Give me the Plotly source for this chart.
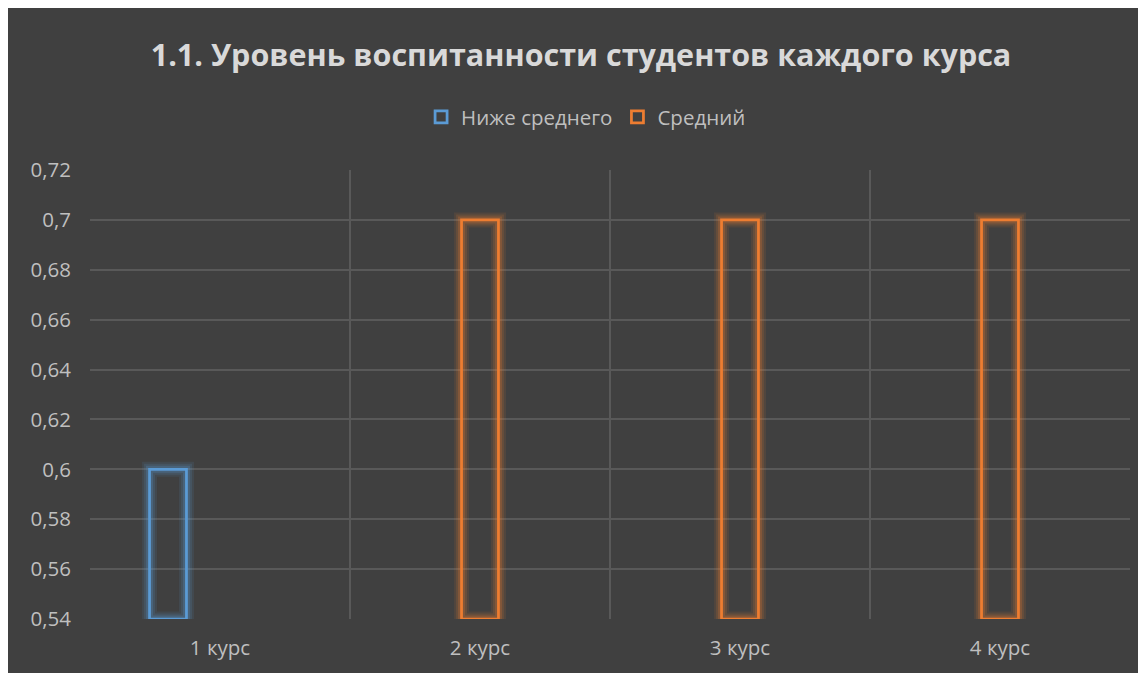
import plotly.graph_objects as go

categories = ["1 курс", "2 курс", "3 курс", "4 курс"]
below_avg = [0.6, None, None, None]
average = [None, 0.7, 0.7, 0.7]
y_tick_vals = [0.54, 0.56, 0.58, 0.6, 0.62, 0.64, 0.66, 0.68, 0.7, 0.72]
y_tick_text = ["0,54", "0,56", "0,58", "0,6", "0,62", "0,64", "0,66", "0,68", "0,7", "0,72"]
title_text = "1.1. Уровень воспитанности студентов каждого курса"

Y_MIN, Y_MAX = 0.54, 0.72
BLUE = "#5B9BD5"
ORANGE = "#ED7D31"
BG = "#404040"
GRID = "#595959"
FONT = "Open Sans"

W = 1146
H = 673
ML, MR, MT, MB = 82, 24, 162, 62

def rel(vals):
    return [None if v is None else v - Y_MIN for v in vals]

fig = go.Figure()

series = [
    ("Ниже среднего", below_avg, BLUE, (91, 155, 213), -0.271),
    ("Средний", average, ORANGE, (237, 125, 49), -0.071),
]
bw = 0.142
for name, vals, col, rgb, off in series:
    for gw, ga in [(15, 0.10), (11, 0.14), (7, 0.22)]:
        fig.add_trace(go.Bar(
            x=categories, y=rel(vals), base=Y_MIN, width=bw, offset=off,
            marker=dict(color="rgba(0,0,0,0)",
                        line=dict(color="rgba(%d,%d,%d,%.2f)" % (rgb + (ga,)), width=gw)),
            showlegend=False, hoverinfo="skip",
        ))
    fig.add_trace(go.Bar(
        x=categories, y=rel(vals), base=Y_MIN, width=bw, offset=off,
        name=name,
        customdata=vals,
        hovertemplate="%{x}: %{customdata}<extra>" + name + "</extra>",
        marker=dict(color="rgba(0,0,0,0)", line=dict(color=col, width=2.75)),
    ))

fig.update_layout(
    width=W, height=H,
    margin=dict(l=ML, r=MR, t=MT, b=MB),
    paper_bgcolor=BG, plot_bgcolor=BG,
    barmode="overlay",
    font=dict(family=FONT, color="#bfbfbf", size=20),
    title=dict(text="<b>" + title_text + "</b>", x=0.5, xanchor="center",
               y=1 - 47 / H, yanchor="middle",
               font=dict(family=FONT, size=30.5, color="#d9d9d9")),
    legend=dict(orientation="h", x=0.477, xanchor="center", y=1 + (MT - 109) / (H - MT - MB),
                yanchor="middle", font=dict(size=20.5, color="#bfbfbf"),
                bgcolor="rgba(0,0,0,0)", itemwidth=30, traceorder="normal"),
    xaxis=dict(type="category", tickson="boundaries", showgrid=True, gridcolor=GRID,
               gridwidth=1.5, ticks="", showline=False, zeroline=False,
               ticklabelstandoff=14, tickfont=dict(size=20.5, color="#bfbfbf")),
    yaxis=dict(range=[Y_MIN, Y_MAX], tickvals=y_tick_vals, ticktext=y_tick_text,
               showgrid=True, gridcolor=GRID, gridwidth=1.5, zeroline=False,
               showline=False, ticks="", ticklabelstandoff=18,
               tickfont=dict(size=20.5, color="#bfbfbf")),
)

fig.write_html("out.html")
